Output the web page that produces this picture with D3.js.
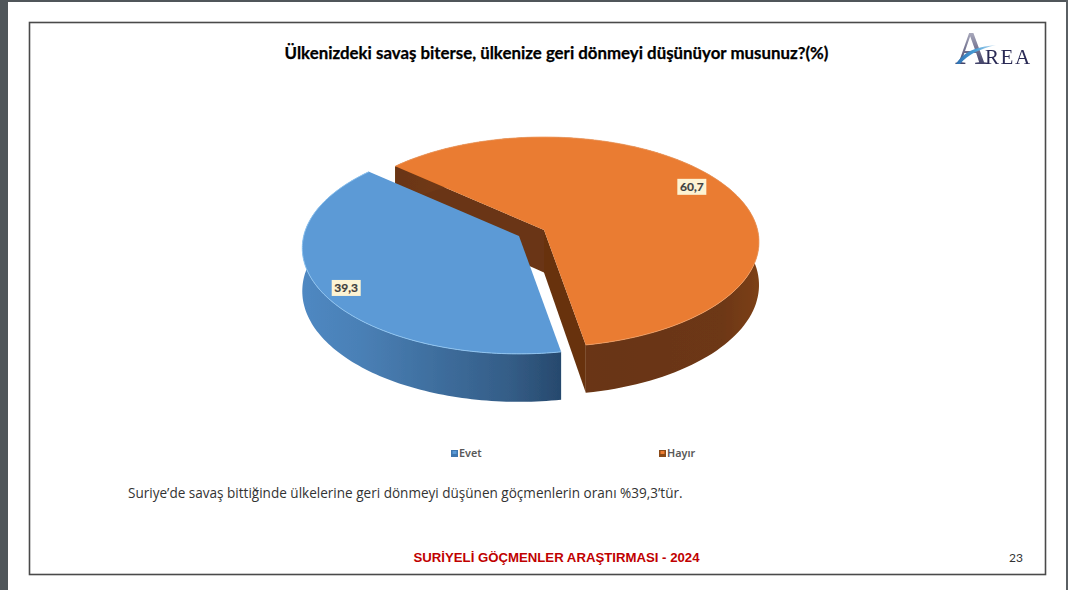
<!DOCTYPE html>
<html><head><meta charset="utf-8">
<script src="https://cdn.jsdelivr.net/npm/d3@7"></script>
<style>html,body{margin:0;padding:0;background:#fff;overflow:hidden}svg{display:block}</style>
</head><body><svg id="c" width="1068" height="590"></svg>
<script>
const categories = ["Evet", "Hayır"];
const values = [39.3, 60.7];
const valueLabels = ["39,3", "60,7"];
const topColors = ["#5b9ad6", "#ea7b30"];
const titleText = "Ülkenizdeki savaş biterse, ülkenize geri dönmeyi düşünüyor musunuz?(%)";
const noteText = "Suriye’de savaş bittiğinde ülkelerine geri dönmeyi düşünen göçmenlerin oranı %39,3’tür.";
const footerText = "SURİYELİ GÖÇMENLER ARAŞTIRMASI - 2024";
const pageNumber = "23";

const svg = d3.select("#c");
const defs = svg.append("defs");
function grad(id, stops) {
  const g = defs.append("linearGradient").attr("id", id).attr("x1", 0).attr("x2", 1).attr("y1", 0).attr("y2", 0);
  stops.forEach(s => g.append("stop").attr("offset", s[0]).attr("stop-color", s[1]));
}
grad("sideBlue", [[0,"#4f88c2"],[0.22,"#4a80b6"],[0.5,"#3f6f9f"],[0.8,"#345d87"],[1,"#27496d"]]);
grad("sideOrange", [[0,"#6a3512"],[0.1,"#6f3813"],[0.6,"#693512"],[0.9,"#6d3713"],[1,"#7c4015"]]);
grad("swoosh", [[0,"#2f6fb0"],[0.5,"#4aa0d8"],[1,"#cfe4f2"]]);
const fa = defs.append("linearGradient").attr("id","logoA").attr("x1",0).attr("x2",0).attr("y1",0).attr("y2",1);
fa.append("stop").attr("offset",0).attr("stop-color","#c9c9d6");
fa.append("stop").attr("offset",1).attr("stop-color","#23234f");
defs.append("filter").attr("id","soft").append("feGaussianBlur").attr("stdDeviation",0.45);

// page chrome
svg.append("rect").attr("width",1068).attr("height",590).attr("fill","#fff");
svg.append("rect").attr("x",0).attr("y",0).attr("width",8).attr("height",590).attr("fill","#50565a");
svg.append("rect").attr("x",0).attr("y",0).attr("width",1068).attr("height",2).attr("fill","#50565a");
svg.append("rect").attr("x",1066).attr("y",0).attr("width",2).attr("height",590).attr("fill","#5a5f63");
svg.append("rect").attr("x",29.5).attr("y",22.5).attr("width",1016).attr("height",552)
  .attr("fill","#fff").attr("stroke","#4a4a4a").attr("stroke-width",1.6);

// title
svg.append("text").attr("x",556.5).attr("y",59).attr("text-anchor","middle")
  .attr("font-family","Lato").attr("font-weight",700).attr("font-size",16.85).attr("fill","#000")
  .attr("stroke","#000").attr("stroke-width",0.25).text(titleText);

// perspective pie geometry
const RX = 213.6, RY = 103.6, K = 0.114, DEPTH = 42.5;
const pieGen = d3.pie().sort(null).value(d => d)
  .startAngle(170 * Math.PI / 180).endAngle((170 + 360) * Math.PI / 180);
const arcs = pieGen(values);
const centers = [{x:519, y:236, s:1.008}, {x:544, y:230, s:1}];

function proj(c, a, r = 1, depth = 0) {
  const u = r * Math.sin(a), v = r * Math.cos(a), w = 1 + K * v;
  return [c.x + c.s * RX * u / w, c.y - c.s * RY * v / w + depth / w];
}
function rim(c, a0, a1, depth = 0) {
  return d3.range(0, 121).map(i => proj(c, a0 + (a1 - a0) * i / 120, 1, depth));
}
const line = d3.line();
const pieG = svg.append("g").attr("filter","url(#soft)");

// Hayır slice: walls, then top
(function () {
  const c = centers[1], d = arcs[1];
  const s = proj(c, d.startAngle), e = proj(c, d.endAngle), ap = [c.x, c.y];
  const sB = proj(c, d.startAngle, 1, DEPTH), eB = proj(c, d.endAngle, 1, DEPTH), apB = [c.x, c.y + DEPTH];
  pieG.append("path").attr("d", line([s, ap, apB, sB]) + "Z").attr("fill", "#6b3612");
  pieG.append("path").attr("d", line([ap, e, eB, apB]) + "Z").attr("fill", "#673311");
  const t = rim(c, d.startAngle, d.endAngle), b = rim(c, d.startAngle, d.endAngle, DEPTH).reverse();
  pieG.append("path").attr("d", line(t.concat(b)) + "Z").attr("fill", "url(#sideOrange)");
  pieG.append("path").attr("d", line([ap].concat(t)) + "Z").attr("fill", topColors[1]);
  pieG.append("path").attr("d", line(t)).attr("fill","none").attr("stroke","#f2a066").attr("stroke-width",0.8);
})();
// Evet slice: wall, then top
(function () {
  const c = centers[0], d = arcs[0];
  const t = rim(c, d.startAngle, d.endAngle), b = rim(c, d.startAngle, d.endAngle, DEPTH).reverse();
  pieG.append("path").attr("d", line(t.concat(b)) + "Z").attr("fill", "url(#sideBlue)");
  pieG.append("path").attr("d", line([[c.x, c.y]].concat(t)) + "Z").attr("fill", topColors[0]);
  pieG.append("path").attr("d", line(t)).attr("fill","none").attr("stroke","#8fc3ef").attr("stroke-width",1);
})();

// value labels
const labelFrac = [0.875, 0.83];
const labelNudge = [5, -3];
arcs.forEach((d, i) => {
  const p = proj(centers[i], (d.startAngle + d.endAngle) / 2, labelFrac[i]);
  const g = svg.append("g").attr("transform", `translate(${p[0]},${p[1] + labelNudge[i]})`);
  g.append("rect").attr("x",-14.5).attr("y",-8).attr("width",29).attr("height",16).attr("fill","#fdf3d3");
  g.append("text").attr("text-anchor","middle").attr("y",4).attr("font-family","Lato")
    .attr("font-weight",700).attr("font-size",12).attr("fill","#3f3f3f")
    .attr("stroke","#3f3f3f").attr("stroke-width",0.2).text(valueLabels[i]);
});

// legend
const legendX = d3.scalePoint().domain(categories).range([451, 659]);
const legendSwatch = [["#3f77ae","#5b9ad6"],["#8a4a18","#ed7d31"]];
categories.forEach((name, i) => {
  const x = legendX(name);
  svg.append("rect").attr("x",x).attr("y",450).attr("width",7).attr("height",7).attr("fill",legendSwatch[i][0]);
  svg.append("rect").attr("x",x+1.5).attr("y",451).attr("width",4).attr("height",3).attr("fill",legendSwatch[i][1]);
  svg.append("text").attr("x",x+8).attr("y",457).attr("font-family","Noto Sans").attr("font-weight",600)
    .attr("font-size",10.8).attr("fill","#595959").text(name);
});

// note + footer + page number
svg.append("text").attr("x",128).attr("y",497.5).attr("font-family","Open Sans")
  .attr("font-size",13.55).attr("fill","#333").text(noteText);
svg.append("text").attr("x",556.5).attr("y",562).attr("text-anchor","middle").attr("font-family","Liberation Sans")
  .attr("font-weight",700).attr("font-size",13.2).attr("fill","#c00000").text(footerText);
svg.append("text").attr("x",1016).attr("y",562).attr("text-anchor","middle").attr("font-family","Lato")
  .attr("font-size",12).attr("fill","#333").text(pageNumber);

// logo
const logo = svg.append("g").attr("filter","url(#soft)");
logo.append("text").attr("x",955).attr("y",64).attr("font-family","Liberation Serif")
  .attr("font-size",46).attr("fill","url(#logoA)").text("A");
logo.append("text").attr("x",985).attr("y",64).attr("font-family","Liberation Serif")
  .attr("font-size",21).attr("letter-spacing",1.6).attr("fill","#2b2b55").text("REA");
logo.append("path").attr("d","M956,64 C964,52 974,47 996,45 C980,49 968,54 960,64 Z").attr("fill","url(#swoosh)");
</script></body></html>
